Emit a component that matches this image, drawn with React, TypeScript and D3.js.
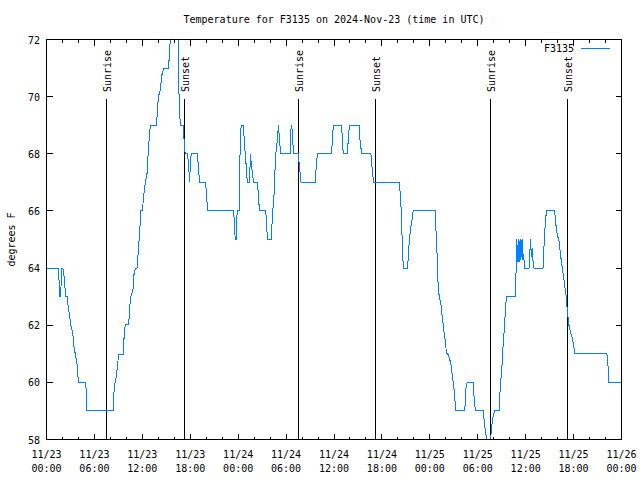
import React from "react";
import * as d3 from "d3";

// ---- data (hours since 2024-11-23 00:00 UTC, degrees F) ----
const temperatureSeries: [number, number][] = [
  [0,64],[1.5,64],[1.55,63.7],[1.65,63],[1.8,63],[1.85,64],[2.05,64],[2.2,63.7],[2.4,63],[2.6,63],[2.7,62.7],[2.9,62.3],[3.05,62],[3.3,61.7],[3.4,61.3],[3.6,61],[3.8,60.7],[4.0,60],[4.9,60],[4.95,59.8],[5.0,59],
  [8.33,59],[8.42,59.5],[8.5,59.87],[8.75,60.22],[8.92,60.68],[9.04,60.97],[9.58,60.97],[9.67,61.32],[9.75,61.79],[9.875,62.02],[10.29,62.02],[10.42,62.67],[10.58,63.02],[10.83,63.25],[10.92,63.72],[11.125,64],[11.33,64],[11.42,64.3],[11.54,64.77],[11.67,65.3],[11.83,66],[12.0,66],[12.17,66.52],[12.375,67],[12.58,67.27],[12.67,67.74],[12.79,68.27],[12.92,68.73],[13.0,69],[13.75,69],[13.83,69.26],[13.92,69.67],[14.04,70.02],[14.25,70.25],[14.46,70.77],[14.67,71],[15.29,71],[15.375,71.44],[15.5,72],[15.6,72.3],[16.45,72.3],[16.6,70.0],[16.75,69.0],
  [17.15,69],[17.25,68.3],[17.375,68],[17.67,68],[17.79,67.6],[17.92,67],[18.0,67.6],[18.125,68],[18.9,68],[19.0,67.6],[19.17,67],[19.875,67],[20.0,66.75],[20.17,66],[23.42,66],[23.54,65.6],[23.625,65],[23.75,65],[23.83,65.8],[23.92,66],[24.125,66],[24.25,68.3],[24.375,69],[24.67,69],[24.79,68.3],[24.96,67.8],[25.04,67.3],[25.17,67],[25.42,67],[25.54,68],[25.625,67.7],[25.79,67.3],[25.92,67],[26.42,67],[26.54,66.5],[26.67,66],[27.46,66],[27.54,65.6],[27.67,65],[28.125,65],[28.21,65.4],[28.33,66],[28.5,66.6],[28.625,67.5],[28.71,68],[28.92,68.5],[29.04,69],[29.17,68.5],[29.33,68],[30.5,68],[30.58,68.8],[30.71,69],[30.83,68.5],[30.92,68],[31.54,68],[31.625,67.7],[31.875,67],
  [33.625,67],[33.75,67.45],[33.92,68],[35.71,68],[35.79,68.5],[35.92,69],[36.96,69],[37.08,68.27],[37.17,68],[37.67,68],[37.79,68.5],[37.92,69],[39.17,69],[39.25,68.5],[39.46,68],[40.625,68],[40.71,67.74],[40.83,67.27],[41.0,67],[44.17,67],[44.25,66.75],[44.375,66.28],[44.46,65.47],[44.58,64.77],[44.67,64],[45.17,64],[45.29,64.3],[45.42,64.95],[45.58,65.35],[45.71,65.58],[45.92,66],[48.67,66],[48.83,64.9],[48.96,64.18],[49.04,63.37],[49.17,63.02],[49.375,62.78],[49.54,62.32],[49.67,62.02],[49.79,61.73],[49.96,61.38],[50.08,61.03],[50.29,60.97],[50.625,60.68],[50.83,60.22],[51.04,59.75],[51.25,59],[52.375,59],[52.5,59.75],[52.67,60],[53.42,60],[53.54,59.5],[53.71,59],[54.67,59],[54.75,58.82],[54.875,58.47],[55.0,58.23],[55.17,57.9],[55.6,57.9],[55.71,58.4],[55.92,58.82],[56.125,59],
  [56.67,59],[56.75,59.52],[56.875,60],[56.96,60.33],[57.08,60.74],[57.17,61.27],[57.29,61.73],[57.42,62.32],[57.58,63],[58.67,63],[58.75,63.31],[58.83,64.3],[58.9,65],[58.97,64.2],[59.1,65],[59.17,64.2],[59.3,65],[59.4,64.3],[59.55,65],[59.65,64.3],[59.75,64.5],[59.85,64],[60.42,64],[60.55,64.7],[60.625,65],[60.7,64.4],[60.8,64.7],[60.9,64.3],[61.04,64],[62.17,64],[62.3,64.8],[62.375,65.3],[62.5,65.6],[62.58,66],[63.625,66],[63.7,65.8],[63.83,65.4],[64.0,65.1],[64.15,65],[64.35,64.5],[64.58,64],[64.75,63.7],[64.92,63.3],[65.08,63],[65.17,62.67],[65.29,62.3],[65.42,62],[65.58,61.8],[65.79,61.6],[66.0,61.3],[66.17,61],[70.17,61],[70.29,60.7],[70.42,60],[72,60],
];

const sunEventHours = [7.51, 17.28, 31.55, 41.2, 55.6, 65.24];
const sunEventLabels = ["Sunrise", "Sunset", "Sunrise", "Sunset", "Sunrise", "Sunset"];

const xTickHours = [0, 6, 12, 18, 24, 30, 36, 42, 48, 54, 60, 66, 72];
const xTickDates = ["11/23", "11/23", "11/23", "11/23", "11/24", "11/24", "11/24", "11/24", "11/25", "11/25", "11/25", "11/25", "11/26"];
const xTickTimes = ["00:00", "06:00", "12:00", "18:00", "00:00", "06:00", "12:00", "18:00", "00:00", "06:00", "12:00", "18:00", "00:00"];
const xMinorHours = d3.range(0, 73, 2);
const yTicks = [58, 60, 62, 64, 66, 68, 70, 72];

const titleText = "Temperature for F3135 on 2024-Nov-23 (time in UTC)";
const yLabel = "degrees F";
const seriesName = "F3135";

const LEFT = 46.5, RIGHT = 621.5, TOP = 39.5, BOTTOM = 439.5;
const FONT = "'DejaVu Sans Mono', monospace";
const LINE_COLOR = "#0080ff";

export default function App() {
  const x = d3.scaleLinear().domain([0, 72]).range([LEFT, RIGHT]);
  const y = d3.scaleLinear().domain([58, 72]).range([BOTTOM, TOP]);
  const line = d3.line<[number, number]>().x(d => x(d[0])).y(d => y(d[1]));
  const path = line(temperatureSeries) || "";

  return (
    <div style={{ position: "absolute", left: 0, top: 0 }}>
      <svg width={640} height={480} style={{ display: "block", background: "#fff" }} fontFamily={FONT} fontSize={10}>
        <defs>
          <clipPath id="plotClip">
            <rect x={LEFT} y={TOP} width={RIGHT - LEFT} height={BOTTOM - TOP} />
          </clipPath>
        </defs>
        <rect x={0} y={0} width={640} height={480} fill="#fff" />

        {/* title */}
        <text x={(LEFT + RIGHT) / 2} y={23} textAnchor="middle" fill="#000">{titleText}</text>

        {/* y axis label */}
        <text transform={`translate(15,${(TOP + BOTTOM) / 2}) rotate(-90)`} textAnchor="middle" fill="#000">{yLabel}</text>

        {/* ticks */}
        <g stroke="#000" strokeWidth={1} shapeRendering="crispEdges">
          {xMinorHours.map(h => (
            <g key={"mn" + h}>
              <line x1={x(h)} x2={x(h)} y1={BOTTOM} y2={BOTTOM - 3} />
              <line x1={x(h)} x2={x(h)} y1={TOP} y2={TOP + 3} />
            </g>
          ))}
          {xTickHours.map(h => (
            <g key={"mj" + h}>
              <line x1={x(h)} x2={x(h)} y1={BOTTOM} y2={BOTTOM - 6} />
              <line x1={x(h)} x2={x(h)} y1={TOP} y2={TOP + 6} />
            </g>
          ))}
          {yTicks.map(v => (
            <g key={"y" + v}>
              <line x1={LEFT} x2={LEFT + 6} y1={y(v)} y2={y(v)} />
              <line x1={RIGHT} x2={RIGHT - 6} y1={y(v)} y2={y(v)} />
            </g>
          ))}
        </g>

        {/* y tick labels */}
        {yTicks.map(v => (
          <text key={"yl" + v} x={40} y={y(v) + 4} textAnchor="end" fill="#000">{v}</text>
        ))}

        {/* x tick labels */}
        {xTickHours.map((h, i) => (
          <g key={"xl" + h}>
            <text x={x(h)} y={458} textAnchor="middle" fill="#000">{xTickDates[i]}</text>
            <text x={x(h)} y={472} textAnchor="middle" fill="#000">{xTickTimes[i]}</text>
          </g>
        ))}

        {/* sunrise / sunset markers */}
        {sunEventHours.map((h, i) => (
          <g key={"ev" + i}>
            <line x1={x(h)} x2={x(h)} y1={99} y2={BOTTOM} stroke="#000" strokeWidth={1} shapeRendering="crispEdges" />
            <text transform={`translate(${x(h) + 4.5},92) rotate(-90)`} textAnchor="start" fill="#000">{sunEventLabels[i]}</text>
          </g>
        ))}

        {/* data line */}
        <path d={path} fill="none" stroke={LINE_COLOR} strokeWidth={1} clipPath="url(#plotClip)" shapeRendering="crispEdges" />

        {/* legend */}
        <text x={574} y={52} textAnchor="end" fill="#000">{seriesName}</text>
        <line x1={581} x2={610} y1={48.5} y2={48.5} stroke={LINE_COLOR} strokeWidth={1} shapeRendering="crispEdges" />

        {/* border */}
        <rect x={LEFT} y={TOP} width={RIGHT - LEFT} height={BOTTOM - TOP} fill="none" stroke="#000" strokeWidth={1} shapeRendering="crispEdges" />
      </svg>
    </div>
  );
}
